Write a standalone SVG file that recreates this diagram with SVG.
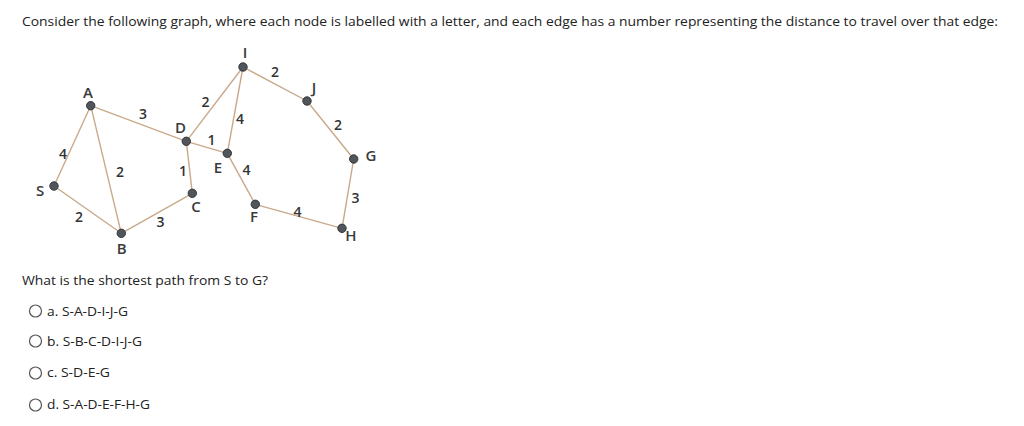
<svg xmlns="http://www.w3.org/2000/svg" width="1024" height="426" viewBox="0 0 1024 426">
<style>
.t{font-family:"Open Sans","Noto Sans","Liberation Sans",sans-serif;font-size:13px;fill:#222}
.e{stroke:#c9a98a;stroke-width:1.4;fill:none}
.n{fill:#50565b;stroke:#33373b;stroke-width:1}
.l{font-family:"Open Sans","Liberation Sans",sans-serif;font-size:15px;fill:#3a3a3a;text-anchor:middle;font-weight:600}
.w{font-family:"Open Sans","Liberation Sans",sans-serif;font-size:14px;fill:#333;text-anchor:middle;font-weight:600}
.r{fill:#fff;stroke:#555;stroke-width:1.2}
</style>
<rect width="1024" height="426" fill="#fff"/>
<text class="t" x="22" y="26" textLength="976" lengthAdjust="spacingAndGlyphs">Consider the following graph, where each node is labelled with a letter, and each edge has a number representing the distance to travel over that edge:</text>
<g id="connectors">
<line class="e" x1="54" y1="186" x2="90.7" y2="105.7"/>
<line class="e" x1="54" y1="186" x2="121.3" y2="233.3"/>
<line class="e" x1="90.7" y1="105.7" x2="121.3" y2="233.3"/>
<line class="e" x1="90.7" y1="105.7" x2="186.3" y2="141.3"/>
<line class="e" x1="121.3" y1="233.3" x2="192.3" y2="193.3"/>
<line class="e" x1="186.3" y1="141.3" x2="192.3" y2="193.3"/>
<line class="e" x1="186.3" y1="141.3" x2="243" y2="67"/>
<line class="e" x1="186.3" y1="141.3" x2="227.3" y2="153.3"/>
<line class="e" x1="243" y1="67" x2="227.3" y2="153.3"/>
<line class="e" x1="227.3" y1="153.3" x2="255.3" y2="204.3"/>
<line class="e" x1="243" y1="67" x2="307" y2="101"/>
<line class="e" x1="307" y1="101" x2="353.7" y2="159"/>
<line class="e" x1="353.7" y1="159" x2="342" y2="228.3"/>
<line class="e" x1="255.3" y1="204.3" x2="342" y2="228.3"/>
<text class="w" x="63" y="158.5">4</text>
<text class="w" x="120" y="176.5">2</text>
<text class="w" x="143" y="118.5">3</text>
<text class="w" x="79" y="221.5">2</text>
<text class="w" x="160.5" y="226.5">3</text>
<text class="w" x="183" y="175.5">1</text>
<text class="w" x="205.5" y="106.5">2</text>
<text class="w" x="211.5" y="144.5">1</text>
<text class="w" x="240" y="124">4</text>
<text class="w" x="246.5" y="175">4</text>
<text class="w" x="275" y="77">2</text>
<text class="w" x="338" y="130">2</text>
<text class="w" x="355.5" y="203">3</text>
<text class="w" x="297.5" y="216.5">4</text>
</g>
<g id="S"><circle class="n" cx="54" cy="186" r="4.2"/><text class="l" x="40" y="195.5">S</text></g>
<g id="A"><circle class="n" cx="90.7" cy="105.7" r="4.2"/><text class="l" x="88" y="97.5">A</text></g>
<g id="B"><circle class="n" cx="121.3" cy="233.3" r="4.2"/><text class="l" x="121.7" y="253.5">B</text></g>
<g id="C"><circle class="n" cx="192.3" cy="193.3" r="4.2"/><text class="l" x="196" y="212">C</text></g>
<g id="D"><circle class="n" cx="186.3" cy="141.3" r="4.2"/><text class="l" x="180.5" y="132.5">D</text></g>
<g id="E"><circle class="n" cx="227.3" cy="153.3" r="4.2"/><text class="l" x="218" y="172.5">E</text></g>
<g id="F"><circle class="n" cx="255.3" cy="204.3" r="4.2"/><text class="l" x="254" y="222">F</text></g>
<g id="I"><circle class="n" cx="243" cy="67" r="4.2"/><text class="l" x="245" y="57.5">I</text></g>
<g id="J"><circle class="n" cx="307" cy="101" r="4.2"/><text class="l" x="314" y="92.5">J</text></g>
<g id="G"><circle class="n" cx="353.7" cy="159" r="4.2"/><text class="l" x="371" y="160.5">G</text></g>
<g id="H"><circle class="n" cx="342" cy="228.3" r="4.2"/><text class="l" x="351" y="240.5">H</text></g>
<text class="t" x="22" y="285" textLength="246" lengthAdjust="spacingAndGlyphs">What is the shortest path from S to G?</text>
<g id="opt-a"><circle class="r" cx="35.5" cy="311" r="6"/><text class="t" x="47" y="315.5" textLength="81" lengthAdjust="spacingAndGlyphs">a. S-A-D-I-J-G</text></g>
<g id="opt-b"><circle class="r" cx="35.5" cy="341" r="6"/><text class="t" x="47" y="345.5" textLength="95" lengthAdjust="spacingAndGlyphs">b. S-B-C-D-I-J-G</text></g>
<g id="opt-c"><circle class="r" cx="35.5" cy="373" r="6"/><text class="t" x="47" y="377" textLength="63" lengthAdjust="spacingAndGlyphs">c. S-D-E-G</text></g>
<g id="opt-d"><circle class="r" cx="35.5" cy="405" r="6"/><text class="t" x="47" y="408.5" textLength="103" lengthAdjust="spacingAndGlyphs">d. S-A-D-E-F-H-G</text></g>
</svg>
